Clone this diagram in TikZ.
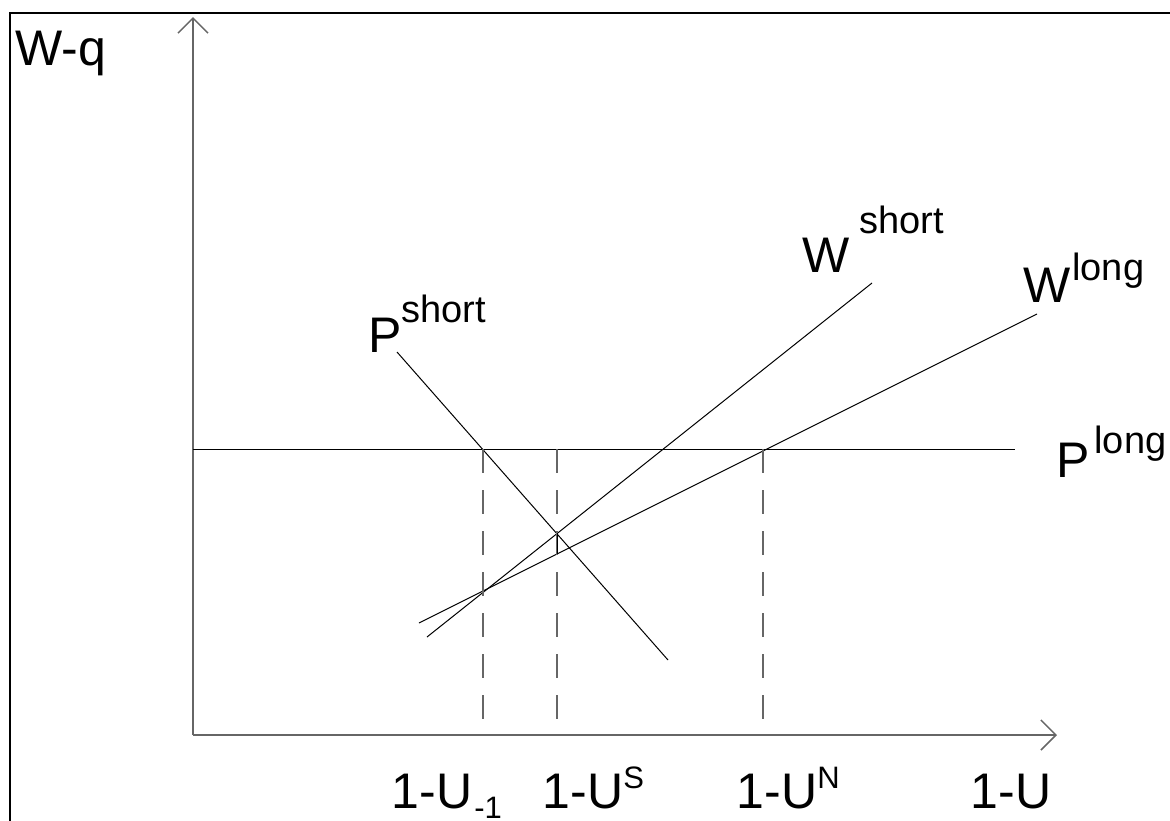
\documentclass[tikz,border=0pt]{standalone}
\usepackage{fontspec}
\setmainfont{Liberation Sans}
\usetikzlibrary{arrows.meta}
\newcommand{\upidx}[2]{\raisebox{#1pt}{\fontsize{38}{44}\selectfont #2}}
\newcommand{\upltr}[2]{\raisebox{#1pt}{\fontsize{31}{36}\selectfont #2}}
\newcommand{\dnidx}[2]{\raisebox{-#1pt}{\fontsize{31}{36}\selectfont #2}}

\begin{document}
\begin{tikzpicture}[x=1pt,y=-1pt,
    lbl/.style={anchor=base west,inner sep=0pt,font=\fontsize{50}{60}\selectfont},
    curve/.style={black,line width=1pt},
    axis/.style={black!60,line width=1.5pt,-{Straight Barb[length=15pt,width=30pt]}},
    guide/.style={black!60,line width=1.5pt,dash pattern=on 24pt off 17pt}]
  \useasboundingbox (0,0) rectangle (1170,820);
  % frame
  \draw[line width=2.5pt] (10,830) -- (10,13) -- (1180,13);
  % axes
  \coordinate (o) at (193,735);
  \coordinate (ytip) at (193,17);
  \coordinate (xtip) at (1057,735);
  \draw[axis] (o) -- (ytip);
  \draw[axis] (o) -- (xtip);
  % curves
  \coordinate (pl-a) at (193,449);  \coordinate (pl-b) at (1015,449);
  \coordinate (ps-a) at (397,352);  \coordinate (ps-b) at (668,660);
  \coordinate (ws-a) at (427,637);  \coordinate (ws-b) at (872,283);
  \coordinate (wl-a) at (419,623);  \coordinate (wl-b) at (1037,314);
  \draw[curve] (pl-a) -- (pl-b);
  \draw[curve] (ps-a) -- (ps-b);
  \draw[curve] (ws-a) -- (ws-b);
  \draw[curve] (wl-a) -- (wl-b);
  % guides down to the axis
  \foreach \gx in {483,557,763}{
    \draw[guide] (\gx,449) -- (\gx,720);
  }
  \coordinate (s-top) at (557,533);
  \coordinate (s-bot) at (557,554);
  \draw[curve] (s-top) -- (s-bot);
  % labels
  \node[lbl] (lwq) at (15,65) {W-q};
  \node[lbl] (lps) at (368,352) {P\upidx{30}{short}};
  \node[lbl] (lws) at (802,272) {W\hspace{10pt}\upidx{39}{short}};
  \node[lbl] (lwl) at (1023,302) {W\hspace{2pt}\upidx{22}{long}};
  \node[lbl] (lpl) at (1056,477) {P\hspace{5pt}\upidx{24}{long}};
  \node[lbl] (lu1) at (391.5,808) {1-U\hspace{2pt}\dnidx{10}{-1}};
  \node[lbl] (lus) at (542.5,808) {1-U\upltr{20}{S}};
  \node[lbl] (lun) at (736.5,808) {1-U\upltr{20}{N}};
  \node[lbl] (lu) at (970.5,808) {1-U};
\end{tikzpicture}
\end{document}
